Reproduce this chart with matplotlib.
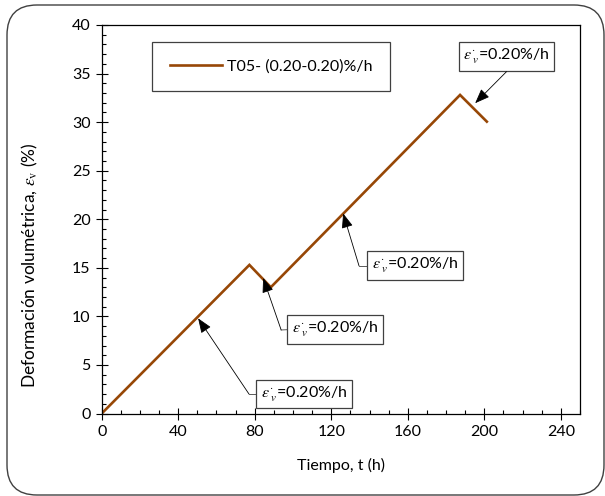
import matplotlib
matplotlib.use("Agg")
import matplotlib.pyplot as plt
from matplotlib.patches import FancyBboxPatch
from matplotlib.ticker import MultipleLocator

plt.rcParams['font.family'] = ['Lato', 'DejaVu Sans']
plt.rcParams['mathtext.fontset'] = 'stix'

# data (vertices of the measured curve)
t_h = [0, 77.2, 88.4, 187.3, 201.3]
eps_v = [0, 15.3, 13.0, 32.8, 30.05]
series_label = "T05- (0.20-0.20)%/h"
rate_label = r"$\varepsilon^{\cdot}_{\ v}$=0.20%/h"

# annotations: (tip t, tip eps, elbow t, elbow eps, text t, text eps)
ann_tip_t = [50.4, 84.4, 126.2, 195.2]
ann_tip_e = [9.8, 13.95, 20.6, 31.95]
ann_elb_t = [77.0, 93.8, 134.5, 211.6]
ann_elb_e = [2.0, 8.6, 15.2, 35.2]
ann_txt_t = [83.0, 99.6, 141.3, 211.6]
ann_txt_e = [2.0, 8.65, 15.2, 36.75]
ann_ha = ['left', 'left', 'left', 'center']

fig = plt.figure(figsize=(6.05, 4.96), dpi=100)
ax = fig.add_axes([0.1681, 0.1663, 0.9587 - 0.1681, 0.9496 - 0.1663])

ax.plot(t_h, eps_v, color='#974706', lw=1.9, label=series_label, solid_joinstyle='miter')

ax.set_xlim(0, 250)
ax.set_ylim(0, 40)
ax.xaxis.set_major_locator(MultipleLocator(40))
ax.xaxis.set_minor_locator(MultipleLocator(10))
ax.yaxis.set_major_locator(MultipleLocator(5))
ax.yaxis.set_minor_locator(MultipleLocator(1))
ax.tick_params(which='major', direction='inout', length=8, width=0.8, labelsize=11.5, pad=4)
ax.tick_params(which='minor', direction='in', length=3, width=0.8)
ax.set_xticks([0, 40, 80, 120, 160, 200, 240])
for s in ax.spines.values():
    s.set_linewidth(0.9)
    s.set_color('black')

ax.set_xlabel("Tiempo, t (h)", fontsize=11.5, labelpad=14)
ax.set_ylabel(r"Deformación volumétrica, $\varepsilon_{\rm v}$ (%)", fontsize=12.5, ha='left')
ax.yaxis.set_label_coords(-0.128, 0.0656)

leg = ax.legend(loc='upper left', bbox_to_anchor=(152 / 605, 1 - 42 / 496), bbox_transform=fig.transFigure,
                fancybox=False, edgecolor='#404040', fontsize=11.5, handlelength=3.3, handletextpad=0.3,
                borderpad=1.1, borderaxespad=0, framealpha=1)
leg.get_frame().set_linewidth(0.9)

for i in range(len(ann_tip_t)):
    ax.text(ann_txt_t[i], ann_txt_e[i], rate_label, fontsize=11.5, ha=ann_ha[i], va='center',
            bbox=dict(boxstyle='square,pad=0.3', fc='white', ec='#404040', lw=0.9))
    if ann_ha[i] == 'left':
        ax.plot([ann_elb_t[i], ann_txt_t[i]], [ann_elb_e[i], ann_txt_e[i]], color='#404040', lw=0.6)
    ax.annotate('', xy=(ann_tip_t[i], ann_tip_e[i]), xytext=(ann_elb_t[i], ann_elb_e[i]),
                arrowprops=dict(arrowstyle='-|>,head_length=0.9,head_width=0.35', color='black',
                                lw=0.6, shrinkA=0, shrinkB=0))

box = FancyBboxPatch((0.07, 0.01), 5.97, 4.90, boxstyle='round,pad=0,rounding_size=0.3',
                     transform=fig.dpi_scale_trans, fc='none', ec='#404040', lw=1.0, clip_on=False)
fig.patches.append(box)

fig.savefig('out.png', dpi=100)
